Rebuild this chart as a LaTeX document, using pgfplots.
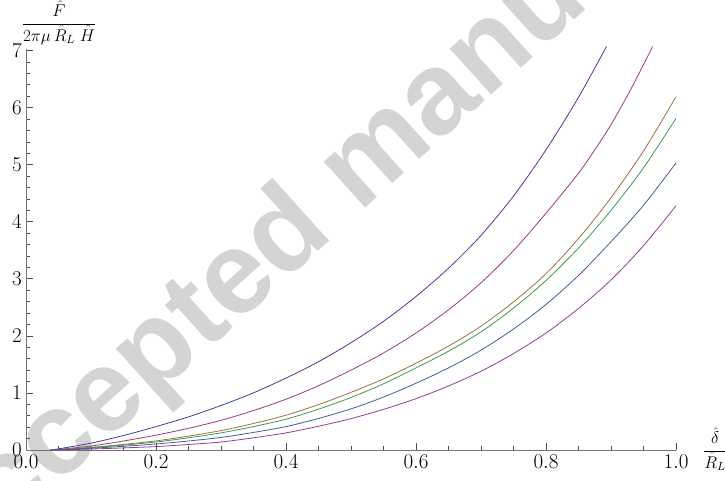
\RequirePackage{fix-cm}
\documentclass[border=0pt]{standalone}
\usepackage[no-math]{fontspec}
\newfontfamily\wmfont{Liberation Sans}
\usepackage{pgfplots}
\pgfplotsset{compat=1.18}
\definecolor{cA}{rgb}{0.246,0.24,0.6}
\definecolor{cB}{rgb}{0.6,0.24,0.456}
\definecolor{cC}{rgb}{0.6,0.456,0.24}
\definecolor{cD}{rgb}{0.24,0.6,0.319}
\definecolor{cE}{rgb}{0.24,0.384,0.6}
\definecolor{cF}{rgb}{0.571,0.24,0.6}
\begin{document}
\begin{tikzpicture}
\useasboundingbox (-26pt,-30pt) rectangle (699pt,450pt);
\node[rotate=42, anchor=base west, inner sep=0pt, text=black!17,
      font=\wmfont\bfseries\fontsize{117}{120}\selectfont] at (-82pt,-138pt) {Accepted manuscript};
\begin{axis}[
  at={(0pt,0pt)}, anchor=origin,
  x=650pt, y=57.07pt,
  xmin=0, xmax=1, ymin=0, ymax=7.03,
  clip=false,
  axis lines=middle,
  axis line style={-, black!55, line width=0.8pt},
  every tick/.style={black!70, line width=0.6pt},
  hide obscured x ticks=false, hide obscured y ticks=false,
  xtick={0,0.2,0.4,0.6,0.8,1.0},
  xticklabels={$0.0$,$0.2$,$0.4$,$0.6$,$0.8$,$1.0$},
  ytick={0,1,2,3,4,5,6,7},
  yticklabels={$0$,$1$,$2$,$3$,$4$,$5$,$6$,$7$},
  minor x tick num=3, minor y tick num=4,
  tick align=inside,
  major tick length=7pt, minor tick length=4pt,
  x tick label style={anchor=north, inner sep=0pt, yshift=-5pt, font=\fontsize{21}{25}\selectfont},
  y tick label style={anchor=east, inner sep=0pt, xshift=-4pt, font=\fontsize{21}{25}\selectfont},
  every axis plot/.append style={line width=0.8pt, smooth},
]
\addplot[cA] coordinates {(0.037,0)(0.05,0.02)(0.1,0.12)(0.15,0.254)(0.2,0.41)(0.25,0.581)(0.3,0.78)(0.35,1.002)(0.4,1.26)(0.45,1.547)(0.5,1.88)(0.55,2.255)(0.6,2.69)(0.65,3.185)(0.7,3.76)(0.75,4.45)(0.8,5.26)(0.85,6.18)(0.893,7.07)};
\addplot[cB] coordinates {(0.037,0)(0.05,0.01)(0.1,0.07)(0.15,0.158)(0.2,0.26)(0.25,0.38)(0.3,0.52)(0.35,0.691)(0.4,0.89)(0.45,1.126)(0.5,1.40)(0.55,1.70)(0.6,2.05)(0.65,2.457)(0.7,2.93)(0.75,3.494)(0.8,4.15)(0.85,4.85)(0.875,5.26)(0.9,5.70)(0.93,6.31)(0.964,7.07)};
\addplot[cC] coordinates {(0.037,0)(0.05,0.007)(0.1,0.045)(0.15,0.098)(0.2,0.16)(0.25,0.243)(0.3,0.34)(0.35,0.465)(0.4,0.61)(0.45,0.795)(0.5,1.01)(0.55,1.246)(0.6,1.52)(0.65,1.821)(0.7,2.17)(0.75,2.595)(0.8,3.09)(0.85,3.705)(0.9,4.42)(0.95,5.24)(1.0,6.19)};
\addplot[cD] coordinates {(0.037,0)(0.05,0.006)(0.1,0.04)(0.15,0.086)(0.2,0.14)(0.25,0.214)(0.3,0.30)(0.35,0.411)(0.4,0.54)(0.45,0.716)(0.5,0.92)(0.55,1.16)(0.6,1.44)(0.65,1.731)(0.7,2.07)(0.75,2.486)(0.8,2.97)(0.85,3.539)(0.9,4.20)(0.95,4.945)(1.0,5.81)};
\addplot[cE] coordinates {(0.037,0)(0.05,0.004)(0.1,0.03)(0.15,0.065)(0.2,0.105)(0.25,0.158)(0.3,0.22)(0.35,0.308)(0.4,0.41)(0.45,0.553)(0.5,0.72)(0.55,0.928)(0.6,1.17)(0.65,1.438)(0.7,1.75)(0.75,2.12)(0.8,2.55)(0.85,3.059)(0.9,3.65)(0.95,4.288)(1.0,5.03)};
\addplot[cF] coordinates {(0.037,0)(0.05,0.002)(0.1,0.017)(0.15,0.037)(0.2,0.06)(0.25,0.097)(0.3,0.14)(0.35,0.214)(0.4,0.30)(0.45,0.416)(0.5,0.55)(0.55,0.712)(0.6,0.90)(0.65,1.122)(0.7,1.38)(0.75,1.69)(0.8,2.05)(0.85,2.48)(0.9,2.98)(0.95,3.58)(1.0,4.28)};
\end{axis}
\node[anchor=base, inner sep=0pt, font=\fontsize{17}{20}\selectfont] at (33pt,422pt) {$\displaystyle\frac{\hat F}{2\pi\mu\,\hat R_L\;\hat H}$};
\node[anchor=base, inner sep=0pt, font=\fontsize{17}{20}\selectfont] at (689pt,-5pt) {$\displaystyle\frac{\hat \delta}{\hat R_L}$};
\end{tikzpicture}
\end{document}
